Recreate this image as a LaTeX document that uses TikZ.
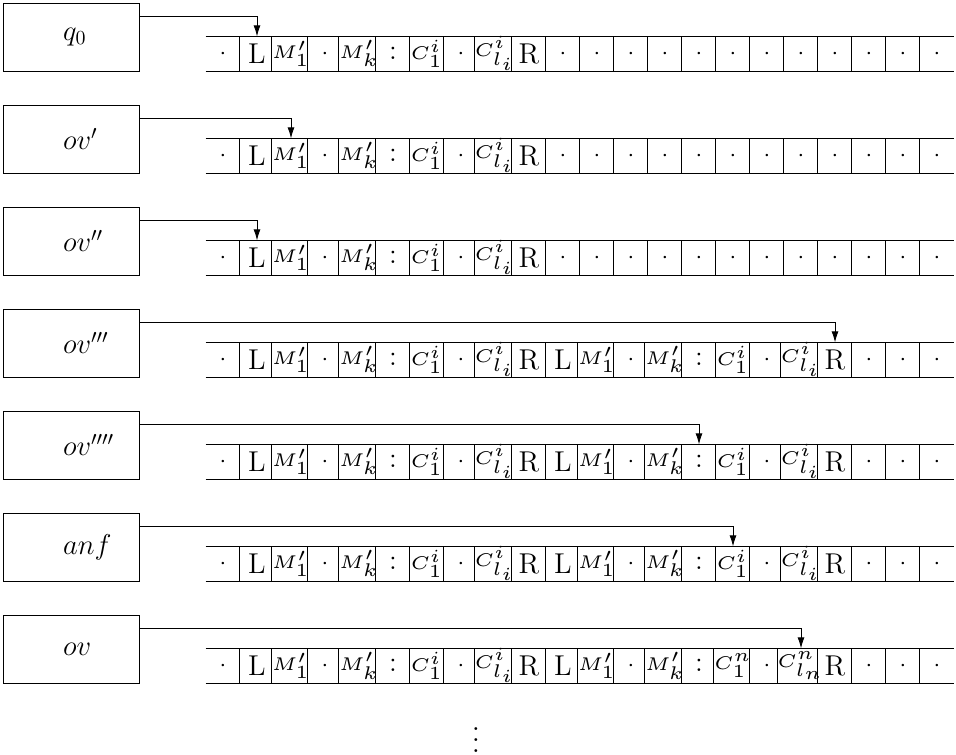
\documentclass[tikz,border=0pt]{standalone}
\usepackage{amsmath,amssymb}
\usetikzlibrary{positioning,arrows.meta}

% tape symbols
\newcommand{\tsmall}[1]{\scalebox{1.85}{\tiny$#1$}}
\newcommand{\tblank}{{\large$\cdot$}}
\newcommand{\tleft}{{\Large L}}
\newcommand{\tright}{{\Large R}}
\newcommand{\tsep}{{\Large$:$}}
\newcommand{\tmone}{\tsmall{M'_1}}
\newcommand{\tmk}{\tsmall{M'_k}}
\newcommand{\tcone}{\tsmall{C^i_1}}
\newcommand{\tcl}{\tsmall{C^i_{l_i}}}
\newcommand{\tcnone}{\tsmall{C^n_1}}
\newcommand{\tcnl}{\tsmall{C^n_{l_n}}}

% tape contents
\def\tapeA{\tblank,\tleft,\tmone,\tblank,\tmk,\tsep,\tcone,\tblank,\tcl,\tright,\tblank,\tblank,\tblank,\tblank,\tblank,\tblank,\tblank,\tblank,\tblank,\tblank,\tblank,\tblank}
\def\tapeB{\tblank,\tleft,\tmone,\tblank,\tmk,\tsep,\tcone,\tblank,\tcl,\tright,\tleft,\tmone,\tblank,\tmk,\tsep,\tcone,\tblank,\tcl,\tright,\tblank,\tblank,\tblank}
\def\tapeC{\tblank,\tleft,\tmone,\tblank,\tmk,\tsep,\tcone,\tblank,\tcl,\tright,\tleft,\tmone,\tblank,\tmk,\tsep,\tcnone,\tblank,\tcnl,\tright,\tblank,\tblank,\tblank}

\begin{document}
\begin{tikzpicture}[
    x=0.01765cm, y=-0.01765cm,
    state/.style={draw, minimum width=2.4cm, minimum height=1.2cm, inner sep=0pt},
    cell/.style={minimum size=0.6cm, inner sep=0pt},
    head/.style={-{Latex[length=5.5pt,width=3.5pt]}}
]
\useasboundingbox (0,0) rectangle (956,755);

% Machine rows
\foreach \lab/\tid/\hd [count=\row from 0] in {q_0/A/1, ov'/A/2, ov''/A/1, ov'''/B/18, ov''''/B/14, anf/B/15, ov/C/17}{
  \pgfmathsetmacro\rowy{2.7+102*\row}
  \node[state, anchor=north west] (s\row) at (2.7,\rowy) {};
  \node[right=1.06cm of s\row.west, inner sep=0pt, font=\Large] (l\row) {$\lab$};
  % tape cells
  \expandafter\let\expandafter\curtape\csname tape\tid\endcsname
  \foreach \cont [count=\idx from 0] in \curtape
    \node[cell] (c\row-\idx) at (223+34*\idx,\rowy+51) {\cont};
  \draw (c\row-0.north west) -- (c\row-21.north east);
  \draw (c\row-0.south west) -- (c\row-21.south east);
  \foreach \idx in {1,...,21}
    \draw (c\row-\idx.north west) -- (c\row-\idx.south west);
  % head
  \draw[head] ([yshift=-0.24cm]s\row.north east) -| (c\row-\hd.north);
}

% Continuation
\node[anchor=south, inner sep=0pt] (more) at (476,753) {\scalebox{1.375}{$\vdots$}};

\end{tikzpicture}
\end{document}
